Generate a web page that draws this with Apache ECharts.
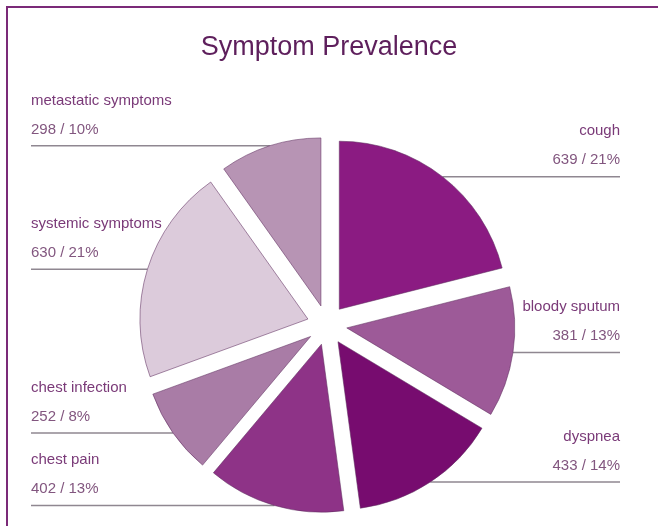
<!DOCTYPE html>
<html><head><meta charset="utf-8">
<script src="https://cdn.jsdelivr.net/npm/echarts@6/dist/echarts.min.js"></script>
<style>html,body{margin:0;padding:0;background:#fff}#c{width:658px;height:526px}</style>
</head><body><div id="c"></div>
<script>
const categories = ['cough', 'bloody sputum', 'dyspnea', 'chest pain', 'chest infection', 'systemic symptoms', 'metastatic symptoms'];
const values = [639, 381, 433, 402, 252, 630, 298];
const sliceColors = ['#8b1b82', '#9d5a98', '#770c6f', '#8e3387', '#a97ca6', '#dccbdb', '#b794b4'];

const chart = echarts.init(document.getElementById('c'), null, { renderer: 'canvas' });
const W = 658;
const CX = 327, CY = 325, R = 168, OFF = 20;
const LEFT_X = 31, RIGHT_X = W - 38;

const data = categories.map((n, i) => ({ name: n, value: values[i] }));

const option = {
  animation: false,
  title: {
    text: 'Symptom Prevalence', left: 'center', top: 29,
    textStyle: { fontFamily: 'Liberation Sans, Arial, sans-serif', fontSize: 27, fontWeight: 'normal', color: '#5e1f5c' }
  },
  graphic: [{
    type: 'rect', silent: true,
    shape: { x: 7, y: 7, width: 700, height: 600 },
    style: { fill: 'none', stroke: '#7b2a78', lineWidth: 2 }
  }],
  series: [
    {
      type: 'pie', center: [CX, CY], radius: R, startAngle: 90, z: 3,
      selectedMode: 'multiple', selectedOffset: OFF, percentPrecision: 0,
      label: { show: false }, labelLine: { show: false },
      emphasis: { disabled: true },
      itemStyle: { borderColor: 'rgba(95,45,95,0.55)', borderWidth: 1 },
      data: data.map((d, i) => ({ name: d.name, value: d.value, selected: true, itemStyle: { color: sliceColors[i] } }))
    },
    {
      type: 'pie', center: [CX, CY], radius: R + OFF, startAngle: 90, z: 2,
      silent: true, percentPrecision: 0, avoidLabelOverlap: false,
      itemStyle: { color: 'rgba(0,0,0,0)', borderWidth: 0 },
      emphasis: { disabled: true },
      label: {
        show: true, position: 'outside',
        formatter: '{n|{b}}\n{v|{c} / {d}%}',
        fontFamily: 'Liberation Sans, Arial, sans-serif', fontSize: 15, lineHeight: 29,
        color: '#7a3f78',
        rich: {
          n: { fontFamily: 'Liberation Sans, Arial, sans-serif', fontSize: 15, lineHeight: 29, color: '#7a3a78' },
          v: { fontFamily: 'Liberation Sans, Arial, sans-serif', fontSize: 15, lineHeight: 29, color: '#82567f' }
        }
      },
      labelLine: { show: true, length: 10, length2: 10, lineStyle: { color: '#8f8791', width: 1.5 } },
      labelLayout: function (p) {
        const pts = p.labelLinePoints;
        if (!pts) return {};
        const isLeft = pts[0][0] < CX;
        const y = pts[0][1];
        const x = isLeft ? LEFT_X : RIGHT_X;
        return {
          x: x, y: y - 2, align: isLeft ? 'left' : 'right', verticalAlign: 'bottom',
          labelLinePoints: [[pts[0][0], y], [pts[0][0], y], [x, y]]
        };
      },
      data: data
    }
  ]
};
chart.setOption(option);
</script>
</body></html>
